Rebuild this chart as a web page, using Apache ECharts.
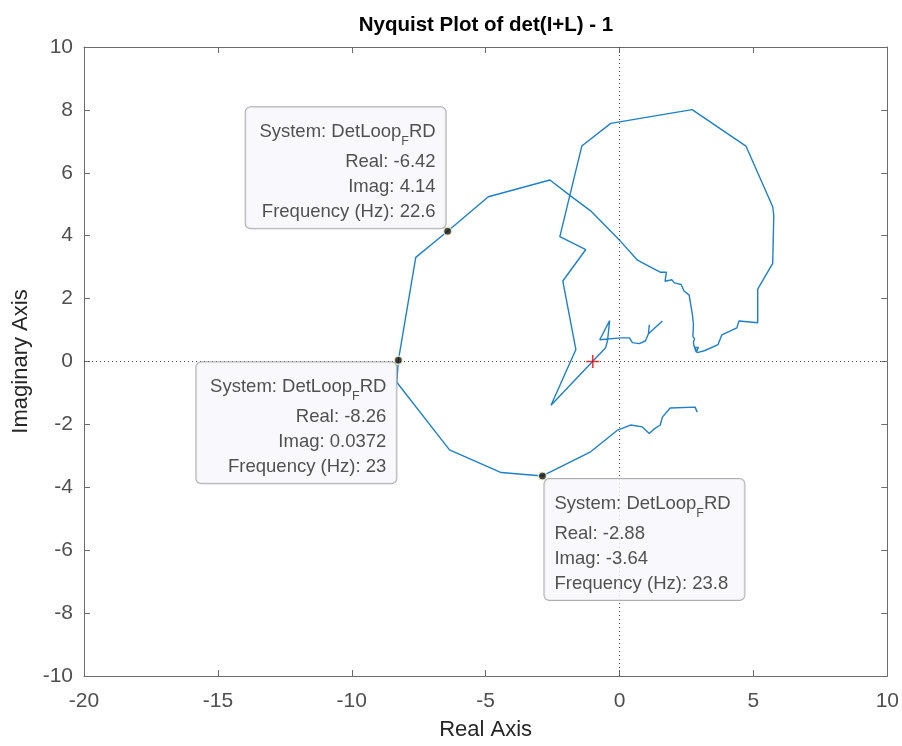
<!DOCTYPE html>
<html>
<head>
<meta charset="utf-8">
<script src="https://cdn.jsdelivr.net/npm/echarts@6/dist/echarts.min.js"></script>
<style>
html,body{margin:0;padding:0;background:#fff;overflow:hidden;}
#chart{width:902px;height:746px;}
</style>
</head>
<body>
<div id="chart"></div>
<script>
// Nyquist curve, in path order
var realPart = [1.11, 1.08, 1.60, 1.08, 0.97, 0.74, 0.48, 0.37, 0.04, -0.74, -0.37, -0.45, -0.52,
  -2.56, -1.63, -2.12, -1.26, -2.23, -1.41, -0.33, 2.71, 4.72, 5.72, 5.76, 5.72, 5.16, 5.16,
  4.46, 4.38, 3.82, 3.68, 3.19, 2.90, 2.82, 2.95, 2.86, 2.78, 2.76, 2.80, 2.74, 2.76, 2.72,
  2.66, 2.60, 2.41, 2.30, 2.23, 2.05, 1.95, 1.70, 1.75, 1.52, 1.23, 0.67, 0.04, -1.08, -1.93,
  -2.60, -4.90, -6.42, -7.61, -8.26, -8.32, -6.35, -4.42, -2.88, -1.08, -0.07, 0.41, 0.85,
  1.11, 1.30, 1.52, 1.60, 1.89, 2.82, 2.90];
var imagPart = [1.17, 0.88, 1.29, 0.88, 0.66, 0.57, 0.60, 0.75, 0.75, 0.69, 1.30, 0.66, 0.44,
  -1.39, 0.38, 2.56, 3.56, 3.97, 6.85, 7.57, 8.01, 6.85, 4.92, 4.65, 3.12, 2.30, 1.23,
  1.29, 1.07, 0.85, 0.54, 0.35, 0.28, 0.45, 0.45, 0.30, 0.50, 0.62, 0.72, 0.80, 1.17, 1.50,
  1.80, 2.11, 2.24, 2.45, 2.49, 2.50, 2.60, 2.55, 2.84, 2.84, 2.97, 3.22, 3.82, 4.79, 5.33,
  5.77, 5.24, 4.14, 3.31, 0.0372, -0.66, -2.81, -3.53, -3.64, -2.87, -2.18, -2.02, -2.08,
  -2.29, -2.14, -2.02, -1.77, -1.48, -1.45, -1.61];

// Data tips
var tipReal = [-6.42, -8.26, -2.88];
var tipImag = [4.14, 0.0372, -3.64];
var tipFreq = [22.6, 23, 23.8];
var systemName = ['DetLoop', 'F', 'RD'];

// Critical point
var criticalPoint = [-1, 0];

// Axis ranges
var xRange = [-20, 10, 5];
var yRange = [-10, 10, 2];

var curve = realPart.map(function (r, i) { return [r, imagPart[i]]; });

function fmt(v) { return String(Number(v.toPrecision(3))); }

var tipLayouts = [
  { align: 'right', verticalAlign: 'bottom', offset: [-2, -3] },
  { align: 'right', verticalAlign: 'top', offset: [-2, 2] },
  { align: 'left', verticalAlign: 'top', offset: [2, 3] }
];

var FONT = 'Liberation Sans';

var tipData = tipReal.map(function (r, i) {
  var L = tipLayouts[i];
  return {
    value: [r, tipImag[i]],
    label: {
      show: true,
      position: ['50%', '50%'],
      align: L.align,
      verticalAlign: L.verticalAlign,
      offset: L.offset,
      formatter: '{a|System: ' + systemName[0] + '}{s|' + systemName[1] + '}{a|' + systemName[2] + '}\n' +
        '{b|Real: ' + fmt(r) + '}\n' +
        '{b|Imag: ' + fmt(tipImag[i]) + '}\n' +
        '{b|Frequency (Hz): ' + fmt(tipFreq[i]) + '}',
      width: 180,
      backgroundColor: '#f8f8fc',
      borderColor: '#9a9a9a',
      borderWidth: 1,
      borderRadius: 5,
      padding: [8, 10, 4, 10],
      rich: {
        a: { fontSize: 18.5, lineHeight: 34, color: '#262626', fontFamily: FONT, align: L.align },
        s: { fontSize: 12.5, lineHeight: 34, color: '#262626', fontFamily: FONT, verticalAlign: 'bottom', padding: [0, 0, 1, 0], align: L.align },
        b: { fontSize: 18.5, lineHeight: 25, color: '#262626', fontFamily: FONT, align: L.align }
      }
    }
  };
});

var axisColor = '#6b6b6b';
var labelColor = '#4f4f4f';

function xAxisCfg(pos, showLabel) {
  return {
    type: 'value', position: pos, min: xRange[0], max: xRange[1], interval: xRange[2],
    axisLine: { show: true, onZero: false, lineStyle: { color: axisColor, width: 1 } },
    axisTick: { show: true, inside: true, length: 6, lineStyle: { color: axisColor } },
    splitLine: { show: false },
    axisLabel: { show: showLabel, color: labelColor, fontSize: 21, fontFamily: FONT, margin: 15 },
    name: showLabel ? 'Real Axis' : '',
    nameLocation: 'middle', nameGap: 43,
    nameTextStyle: { fontSize: 22, color: '#262626', fontFamily: FONT }
  };
}
function yAxisCfg(pos, showLabel) {
  return {
    type: 'value', position: pos, min: yRange[0], max: yRange[1], interval: yRange[2],
    axisLine: { show: true, onZero: false, lineStyle: { color: axisColor, width: 1 } },
    axisTick: { show: true, inside: true, length: 6, lineStyle: { color: axisColor } },
    splitLine: { show: false },
    axisLabel: { show: showLabel, color: labelColor, fontSize: 21, fontFamily: FONT, margin: 11 },
    name: showLabel ? 'Imaginary Axis' : '',
    nameLocation: 'middle', nameGap: 45,
    nameTextStyle: { fontSize: 22, color: '#262626', fontFamily: FONT }
  };
}

var chart = echarts.init(document.getElementById('chart'), null, { renderer: 'canvas' });
chart.setOption({
  animation: false,
  backgroundColor: '#ffffff',
  title: {
    text: 'Nyquist Plot of det(I+L) - 1',
    left: 481, textAlign: 'center', top: 10,
    textStyle: { fontSize: 20.5, fontWeight: 'bold', color: '#000', fontFamily: FONT }
  },
  grid: { left: 84, top: 47, right: 10, bottom: 65, containLabel: false },
  xAxis: [xAxisCfg('bottom', true), xAxisCfg('top', false)],
  yAxis: [yAxisCfg('left', true), yAxisCfg('right', false)],
  series: [
    {
      type: 'line', silent: true, symbol: 'none', data: [],
      markLine: {
        silent: true, symbol: 'none', label: { show: false },
        lineStyle: { type: [1, 3], color: '#444', width: 1 },
        data: [{ xAxis: 0 }, { yAxis: 0 }]
      }
    },
    {
      type: 'line', data: curve, showSymbol: false, symbol: 'none',
      lineStyle: { color: '#1f80c9', width: 1.4 }, z: 3
    },
    {
      type: 'scatter', data: [criticalPoint],
      symbol: 'path://M5.25,0h1.5v5.25h5.25v1.5h-5.25v5.25h-1.5v-5.25h-5.25v-1.5h5.25z',
      symbolSize: 13, itemStyle: { color: '#ff0000' }, z: 4
    },
    {
      type: 'scatter', data: tipData, symbol: 'circle', symbolSize: 8,
      itemStyle: { color: '#111111', borderColor: '#f5f5c8', borderWidth: 1.5 }, z: 5
    }
  ]
});
</script>
</body>
</html>
